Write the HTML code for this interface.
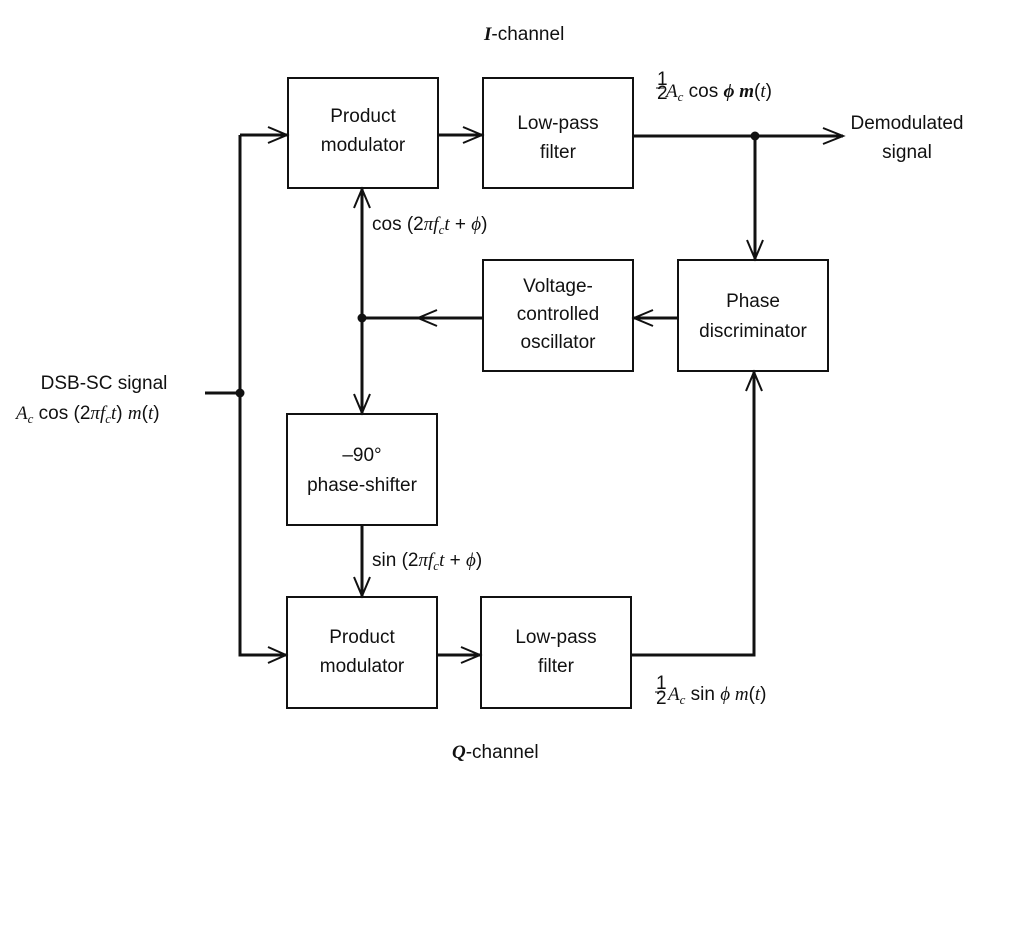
<!DOCTYPE html>
<html><head><meta charset="utf-8"><style>
html,body{margin:0;padding:0;background:#fff;}
svg{display:block}
text{font-family:"Liberation Sans",sans-serif;font-size:19px;fill:#111;}
.s{font-family:"Liberation Serif",serif;font-style:italic;}
</style></head><body>
<svg width="1024" height="934" viewBox="0 0 1024 934" xmlns="http://www.w3.org/2000/svg">
<g fill="none" stroke="#111" stroke-width="2">
<rect x="288" y="78" width="150" height="110"/>
<rect x="483" y="78" width="150" height="110"/>
<rect x="483" y="260" width="150" height="111"/>
<rect x="678" y="260" width="150" height="111"/>
<rect x="287" y="414" width="150" height="111"/>
<rect x="287" y="597" width="150" height="111"/>
<rect x="481" y="597" width="150" height="111"/>
</g>
<g fill="none" stroke="#111" stroke-width="3">
<path d="M240 135 H288"/>
<path d="M240 135 V655 H287"/>
<path d="M205 393 H240"/>
<path d="M438 135 H483"/>
<path d="M437 655 H481"/>
<path d="M633 136 H843"/>
<path d="M755 136 V260"/>
<path d="M362 188 V414"/>
<path d="M362 318 H483"/>
<path d="M633 318 H678"/>
<path d="M362 525 V597"/>
<path d="M631 655 H754 V371"/>
</g>
<g fill="none" stroke="#111" stroke-width="2">
<path d="M268 127 L287 135 L268 143"/>
<path d="M268 647 L286 655 L268 663"/>
<path d="M463 127 L482 135 L463 143"/>
<path d="M461 647 L480 655 L461 663"/>
<path d="M823 128 L843 136 L823 144"/>
<path d="M747 240 L755 259 L763 240"/>
<path d="M354 208 L362 189 L370 208"/>
<path d="M437 310 L418 318 L437 326"/>
<path d="M653 310 L634 318 L653 326"/>
<path d="M354 394 L362 413 L370 394"/>
<path d="M354 577 L362 596 L370 577"/>
<path d="M746 391 L754 372 L762 391"/>
</g>
<circle cx="240" cy="393" r="4.5" fill="#111"/>
<circle cx="362" cy="318" r="4.5" fill="#111"/>
<circle cx="755" cy="136" r="4.5" fill="#111"/>
<g text-anchor="middle">
<text x="363" y="122">Product</text><text x="363" y="151">modulator</text>
<text x="558" y="129">Low-pass</text><text x="558" y="158">filter</text>
<text x="558" y="292">Voltage-</text><text x="558" y="320">controlled</text><text x="558" y="348">oscillator</text>
<text x="753" y="307">Phase</text><text x="753" y="337">discriminator</text>
<text x="362" y="461">–90°</text><text x="362" y="491">phase-shifter</text>
<text x="362" y="643">Product</text><text x="362" y="672">modulator</text>
<text x="556" y="643">Low-pass</text><text x="556" y="672">filter</text>
<text x="907" y="129">Demodulated</text><text x="907" y="158">signal</text>
<text x="104" y="389">DSB-SC signal</text>
</g>
<text x="16" y="419"><tspan class="s">A</tspan><tspan class="s" font-size="13" dy="4">c</tspan><tspan dy="-4"> cos (2</tspan><tspan class="s">πf</tspan><tspan class="s" font-size="13" dy="4">c</tspan><tspan class="s" dy="-4">t</tspan><tspan>) </tspan><tspan class="s">m</tspan><tspan>(</tspan><tspan class="s">t</tspan><tspan>)</tspan></text>
<text x="372" y="230">cos (2<tspan class="s">πf</tspan><tspan class="s" font-size="13" dy="4">c</tspan><tspan class="s" dy="-4">t</tspan> + <tspan class="s">ϕ</tspan>)</text>
<text x="372" y="566">sin (2<tspan class="s">πf</tspan><tspan class="s" font-size="13" dy="4">c</tspan><tspan class="s" dy="-4">t</tspan> + <tspan class="s">ϕ</tspan>)</text>
<text x="657" y="85" font-size="11">1</text><line x1="656" y1="88" x2="664" y2="88" stroke="#111" stroke-width="1"/><text x="657" y="99" font-size="11">2</text>
<text x="666" y="97"><tspan class="s">A</tspan><tspan class="s" font-size="13" dy="4">c</tspan><tspan dy="-4"> cos </tspan><tspan class="s" font-weight="bold">ϕ m</tspan>(<tspan class="s">t</tspan>)</text>
<text x="656" y="689" font-size="11">1</text><line x1="655" y1="692" x2="663" y2="692" stroke="#111" stroke-width="1"/><text x="656" y="704" font-size="11">2</text>
<text x="668" y="700"><tspan class="s">A</tspan><tspan class="s" font-size="13" dy="4">c</tspan><tspan dy="-4"> sin </tspan><tspan class="s">ϕ m</tspan>(<tspan class="s">t</tspan>)</text>
<text x="484" y="40"><tspan class="s" font-weight="bold">I</tspan>-channel</text>
<text x="452" y="758"><tspan class="s" font-weight="bold">Q</tspan>-channel</text>
</svg>
</body></html>
